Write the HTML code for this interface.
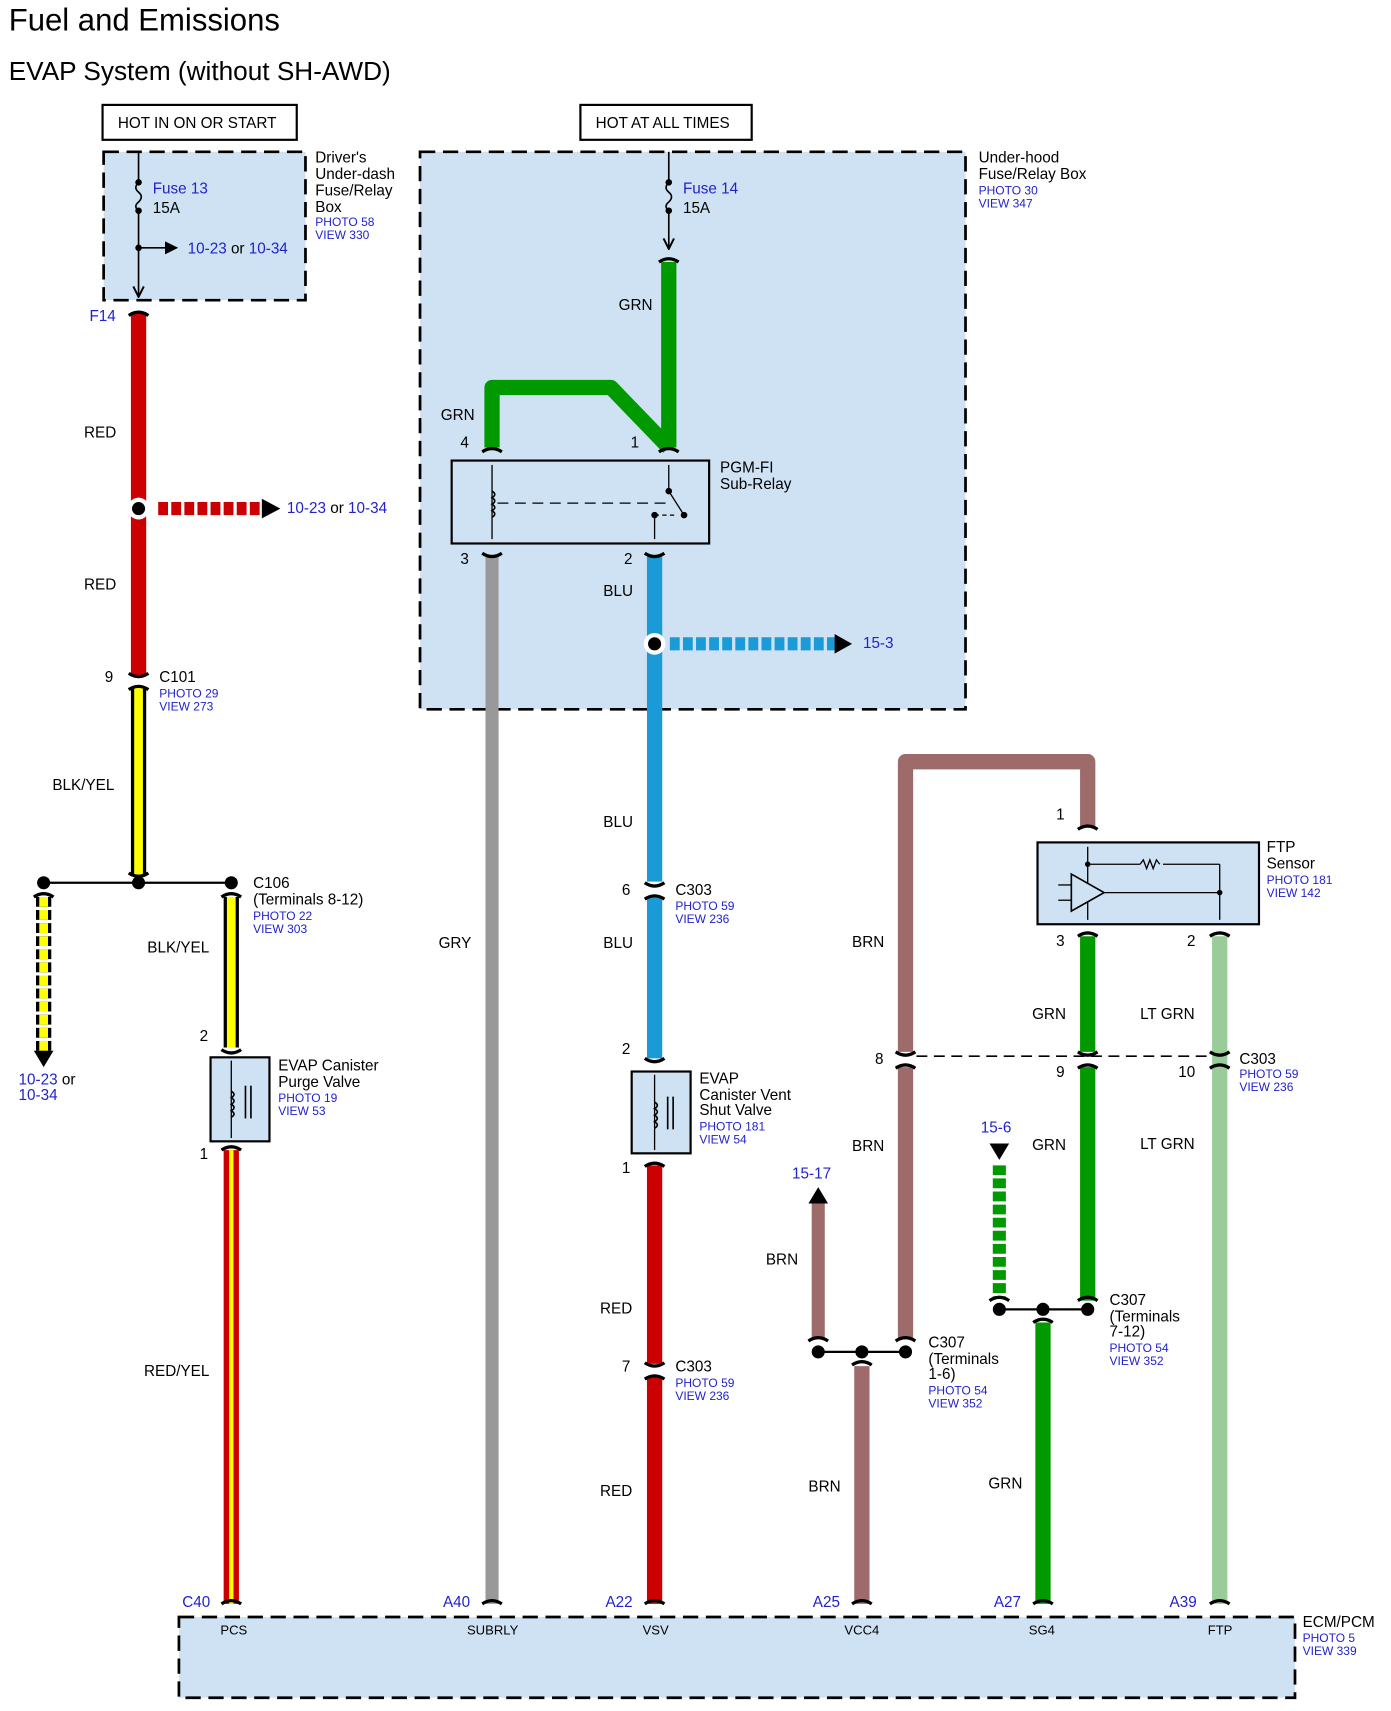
<!DOCTYPE html>
<html><head><meta charset="utf-8"><style>html,body{margin:0;padding:0;background:#fff}svg{display:block}</style></head><body>
<svg width="1391" height="1711" viewBox="0 0 1275 1568" xmlns="http://www.w3.org/2000/svg" font-family="Liberation Sans, Arial, sans-serif" font-size="14">
<defs>
<marker id="ah" viewBox="0 0 10 10" refX="9" refY="5" markerWidth="8" markerHeight="8" orient="auto"><path d="M0,0 L10,5 L0,10 z" fill="#000"/></marker>
<marker id="oa" viewBox="0 0 10 10" refX="9" refY="5" markerWidth="8" markerHeight="8" orient="auto"><path d="M1,1 L9,5 L1,9" fill="none" stroke="#000" stroke-width="1.5"/></marker>
</defs>
<text x="8" y="28" font-size="28.5">Fuel and Emissions</text>
<text x="8" y="73" font-size="24">EVAP System (without SH-AWD)</text>
<rect x="94" y="96" width="178" height="32" fill="none" stroke="#000" stroke-width="2"/>
<text x="108" y="117">HOT IN ON OR START</text>
<rect x="532" y="96" width="157" height="32" fill="none" stroke="#000" stroke-width="2"/>
<text x="546" y="117">HOT AT ALL TIMES</text>
<!-- boxes -->
<rect x="95" y="139" width="185" height="136" fill="#cfe2f3" stroke="#000" stroke-width="2.5" stroke-dasharray="14,7"/>
<rect x="385" y="139" width="500" height="511" fill="#cfe2f3" stroke="#000" stroke-width="2.5" stroke-dasharray="14,7"/>
<rect x="164" y="1482" width="1023" height="74" fill="#cfe2f3" stroke="#000" stroke-width="2.5" stroke-dasharray="14,7"/>
<!-- fuse 13 -->
<line x1="127" y1="139" x2="127" y2="166" stroke="#000" stroke-width="1.5"/>
<path d="M127 167 q-5 5 0 9 q5 4 0 9 q-5 4 0 8" fill="none" stroke="#000" stroke-width="1.5"/>
<line x1="127" y1="193" x2="127" y2="272" stroke="#000" stroke-width="1.5" marker-end="url(#oa)"/>
<circle cx="127" cy="167" r="3"/><circle cx="127" cy="193" r="3"/><circle cx="127" cy="227" r="3"/>
<line x1="127" y1="227" x2="162" y2="227" stroke="#000" stroke-width="1.5" marker-end="url(#ah)"/>
<text x="140" y="177" fill="#2222cc">Fuse 13</text><text x="140" y="195">15A</text>
<text x="172" y="232" fill="#2222cc">10-23 <tspan fill="#000">or</tspan> 10-34</text>
<g font-size="14"><text x="289" y="149">Driver's</text><text x="289" y="164">Under-dash</text><text x="289" y="179">Fuse/Relay</text><text x="289" y="194">Box</text></g>
<g font-size="11" fill="#2222cc"><text x="289" y="207">PHOTO 58</text><text x="289" y="219">VIEW 330</text></g>
<text x="82" y="294" fill="#2222cc">F14</text>
<!-- red wire -->
<line x1="127" y1="286" x2="127" y2="620" stroke="#cc0000" stroke-width="14"/>
<text x="77" y="401">RED</text><text x="77" y="540">RED</text>
<line x1="145" y1="466" x2="240" y2="466" stroke="#cc0000" stroke-width="12" stroke-dasharray="9,3"/>
<path d="M240 457 L257 466 L240 475z"/>
<circle cx="127" cy="466" r="10" fill="#fff"/><circle cx="127" cy="466" r="6"/>
<text x="263" y="470" fill="#2222cc">10-23 <tspan fill="#000">or</tspan> 10-34</text>
<text x="96" y="625">9</text><text x="146" y="625">C101</text>
<g font-size="11" fill="#2222cc"><text x="146" y="639">PHOTO 29</text><text x="146" y="651">VIEW 273</text></g>
<!-- blk/yel -->
<line x1="127" y1="630" x2="127" y2="803" stroke="#000" stroke-width="14"/><line x1="127" y1="630" x2="127" y2="803" stroke="#ffff00" stroke-width="8"/>
<text x="48" y="724">BLK/YEL</text>
<line x1="40" y1="809" x2="212" y2="809" stroke="#000" stroke-width="2"/>
<circle cx="40" cy="809" r="6"/><circle cx="127" cy="809" r="6"/><circle cx="212" cy="809" r="6"/>
<line x1="40" y1="822" x2="40" y2="963" stroke="#000" stroke-width="14" stroke-dasharray="9,3"/><line x1="40" y1="822" x2="40" y2="963" stroke="#ffff00" stroke-width="8" stroke-dasharray="9,3"/>
<path d="M31 963 L49 963 L40 978z"/>
<g fill="#2222cc"><text x="17" y="994">10-23 <tspan fill="#000">or</tspan></text><text x="17" y="1008">10-34</text></g>
<text x="232" y="814">C106</text><text x="232" y="829">(Terminals 8-12)</text>
<g font-size="11" fill="#2222cc"><text x="232" y="843">PHOTO 22</text><text x="232" y="855">VIEW 303</text></g>
<line x1="212" y1="822" x2="212" y2="960" stroke="#000" stroke-width="14"/><line x1="212" y1="822" x2="212" y2="960" stroke="#ffff00" stroke-width="8"/>
<text x="135" y="873">BLK/YEL</text><text x="183" y="954">2</text>
<rect x="193" y="969" width="54" height="77" fill="#cfe2f3" stroke="#000" stroke-width="2"/>
<line x1="212" y1="972" x2="212" y2="1043" stroke="#000" stroke-width="1.2"/>
<path d="M212 1000 q5 3 0 6 q5 3 0 6 q5 3 0 6 q5 3 0 6" fill="none" stroke="#000" stroke-width="1.5"/>
<line x1="225" y1="995" x2="225" y2="1025" stroke="#000" stroke-width="1.5"/><line x1="230" y1="995" x2="230" y2="1025" stroke="#000" stroke-width="1.5"/>
<text x="255" y="981">EVAP Canister</text><text x="255" y="996">Purge Valve</text>
<g font-size="11" fill="#2222cc"><text x="255" y="1010">PHOTO 19</text><text x="255" y="1022">VIEW 53</text></g>
<text x="183" y="1062">1</text>
<line x1="212" y1="1054" x2="212" y2="1470" stroke="#cc0000" stroke-width="14"/><line x1="212" y1="1054" x2="212" y2="1470" stroke="#ffff00" stroke-width="4"/>
<text x="132" y="1261">RED/YEL</text>
<text x="167" y="1473" fill="#2222cc">C40</text><text x="202" y="1498" font-size="12">PCS</text>
<!-- ECM -->
<text x="1194" y="1491">ECM/PCM</text>
<g font-size="11" fill="#2222cc"><text x="1194" y="1505">PHOTO 5</text><text x="1194" y="1517">VIEW 339</text></g>
<!-- under-hood -->
<text x="897" y="149">Under-hood</text><text x="897" y="164">Fuse/Relay Box</text>
<g font-size="11" fill="#2222cc"><text x="897" y="178">PHOTO 30</text><text x="897" y="190">VIEW 347</text></g>
<line x1="613" y1="139" x2="613" y2="166" stroke="#000" stroke-width="1.5"/>
<path d="M613 167 q-5 5 0 9 q5 4 0 9 q-5 4 0 8" fill="none" stroke="#000" stroke-width="1.5"/>
<line x1="613" y1="193" x2="613" y2="228" stroke="#000" stroke-width="1.5" marker-end="url(#oa)"/>
<circle cx="613" cy="167" r="3"/><circle cx="613" cy="193" r="3"/>
<text x="626" y="177" fill="#2222cc">Fuse 14</text><text x="626" y="195">15A</text>
<path d="M613 240 L613 410 M451 410 L451 355 L560 355 L613 410" fill="none" stroke="#009900" stroke-width="14" stroke-linejoin="round"/>
<text x="567" y="284">GRN</text><text x="404" y="385">GRN</text><text x="422" y="410">4</text><text x="578" y="410">1</text>
<rect x="414" y="422" width="236" height="76" fill="#cfe2f3" stroke="#000" stroke-width="2"/>
<line x1="451" y1="426" x2="451" y2="494" stroke="#000" stroke-width="1.2"/>
<path d="M451 450 q5 3 0 6 q5 3 0 6 q5 3 0 6 q5 3 0 6" fill="none" stroke="#000" stroke-width="1.5"/>
<line x1="456" y1="461" x2="612" y2="461" stroke="#000" stroke-width="1.2" stroke-dasharray="10,6"/>
<line x1="613" y1="426" x2="613" y2="450" stroke="#000" stroke-width="1.2"/><circle cx="613" cy="450" r="3"/>
<line x1="613" y1="450" x2="627" y2="472" stroke="#000" stroke-width="1.2"/><circle cx="627" cy="472" r="3"/>
<circle cx="600" cy="472" r="3"/><line x1="600" y1="472" x2="620" y2="472" stroke="#000" stroke-width="1.2" stroke-dasharray="4,3"/>
<line x1="600" y1="472" x2="600" y2="494" stroke="#000" stroke-width="1.2"/>
<text x="660" y="433">PGM-FI</text><text x="660" y="448">Sub-Relay</text>
<text x="422" y="517">3</text><text x="572" y="517">2</text>
<line x1="451" y1="510" x2="451" y2="1470" stroke="#999999" stroke-width="12"/>
<text x="402" y="869">GRY</text>
<line x1="600" y1="510" x2="600" y2="808" stroke="#1a9ad6" stroke-width="14"/>
<text x="553" y="546">BLU</text><text x="553" y="758">BLU</text>
<line x1="614" y1="590" x2="765" y2="590" stroke="#1a9ad6" stroke-width="12" stroke-dasharray="9,3"/>
<path d="M765 581 L781 590 L765 599z"/>
<circle cx="600" cy="590" r="10" fill="#fff"/><circle cx="600" cy="590" r="6"/>
<text x="791" y="594" fill="#2222cc">15-3</text>
<text x="570" y="820">6</text><text x="619" y="820">C303</text>
<g font-size="11" fill="#2222cc"><text x="619" y="834">PHOTO 59</text><text x="619" y="846">VIEW 236</text></g>
<line x1="600" y1="822" x2="600" y2="970" stroke="#1a9ad6" stroke-width="14"/>
<text x="553" y="869">BLU</text><text x="570" y="966">2</text>
<rect x="579" y="982" width="54" height="75" fill="#cfe2f3" stroke="#000" stroke-width="2"/>
<line x1="600" y1="985" x2="600" y2="1054" stroke="#000" stroke-width="1.2"/>
<path d="M600 1010 q5 3 0 6 q5 3 0 6 q5 3 0 6 q5 3 0 6" fill="none" stroke="#000" stroke-width="1.5"/>
<line x1="612" y1="1005" x2="612" y2="1035" stroke="#000" stroke-width="1.5"/><line x1="617" y1="1005" x2="617" y2="1035" stroke="#000" stroke-width="1.5"/>
<text x="641" y="993">EVAP</text><text x="641" y="1008">Canister Vent</text><text x="641" y="1022">Shut Valve</text>
<g font-size="11" fill="#2222cc"><text x="641" y="1036">PHOTO 181</text><text x="641" y="1048">VIEW 54</text></g>
<text x="570" y="1075">1</text>
<line x1="600" y1="1068" x2="600" y2="1250" stroke="#cc0000" stroke-width="14"/>
<text x="550" y="1204">RED</text><text x="570" y="1257">7</text><text x="619" y="1257">C303</text>
<g font-size="11" fill="#2222cc"><text x="619" y="1271">PHOTO 59</text><text x="619" y="1283">VIEW 236</text></g>
<line x1="600" y1="1262" x2="600" y2="1470" stroke="#cc0000" stroke-width="14"/>
<text x="550" y="1371">RED</text>
<text x="406" y="1473" fill="#2222cc">A40</text><text x="428" y="1498" font-size="12">SUBRLY</text>
<text x="555" y="1473" fill="#2222cc">A22</text><text x="589" y="1498" font-size="12">VSV</text>
<!-- BRN loop -->
<path d="M830 964 L830 698 L997 698 L997 758" fill="none" stroke="#9e6b6b" stroke-width="14" stroke-linejoin="round"/>
<line x1="830" y1="978" x2="830" y2="1226" stroke="#9e6b6b" stroke-width="14"/>
<text x="968" y="751">1</text>
<rect x="951" y="772" width="203" height="75" fill="#cfe2f3" stroke="#000" stroke-width="2"/>
<line x1="997" y1="776" x2="997" y2="843" stroke="#000" stroke-width="1.2"/>
<line x1="997" y1="792" x2="1045" y2="792" stroke="#000" stroke-width="1.2"/>
<path d="M1045 792 l3 -4 l3 8 l3 -8 l3 8 l3 -8 l3 4" fill="none" stroke="#000" stroke-width="1.2"/>
<line x1="1066" y1="792" x2="1118" y2="792" stroke="#000" stroke-width="1.2"/>
<line x1="1118" y1="792" x2="1118" y2="843" stroke="#000" stroke-width="1.2"/>
<circle cx="997" cy="792" r="2.5"/><circle cx="1118" cy="818" r="2.5"/>
<path d="M982 801 L1012 818 L982 835z" fill="#cfe2f3" stroke="#000" stroke-width="1.5"/>
<line x1="1012" y1="818" x2="1118" y2="818" stroke="#000" stroke-width="1.2"/>
<line x1="970" y1="811" x2="982" y2="811" stroke="#000" stroke-width="1.2"/><line x1="970" y1="825" x2="982" y2="825" stroke="#000" stroke-width="1.2"/>
<text x="1161" y="781">FTP</text><text x="1161" y="796">Sensor</text>
<g font-size="11" fill="#2222cc"><text x="1161" y="810">PHOTO 181</text><text x="1161" y="822">VIEW 142</text></g>
<text x="968" y="867">3</text><text x="1088" y="867">2</text>
<line x1="997" y1="858" x2="997" y2="964" stroke="#009900" stroke-width="14"/>
<line x1="997" y1="978" x2="997" y2="1192" stroke="#009900" stroke-width="14"/>
<line x1="1118" y1="858" x2="1118" y2="1470" stroke="#99cc99" stroke-width="14"/>
<text x="781" y="868">BRN</text><text x="946" y="934">GRN</text><text x="1045" y="934">LT GRN</text>
<line x1="840" y1="968" x2="1110" y2="968" stroke="#000" stroke-width="1.5" stroke-dasharray="10,6"/>
<text x="802" y="975">8</text><text x="968" y="987">9</text><text x="1080" y="987">10</text>
<text x="1136" y="975">C303</text>
<g font-size="11" fill="#2222cc"><text x="1136" y="988">PHOTO 59</text><text x="1136" y="1000">VIEW 236</text></g>
<text x="781" y="1055">BRN</text><text x="946" y="1054">GRN</text><text x="1045" y="1053">LT GRN</text>
<text x="726" y="1080" fill="#2222cc">15-17</text>
<path d="M741 1103 L759 1103 L750 1088z"/>
<line x1="750" y1="1103" x2="750" y2="1226" stroke="#9e6b6b" stroke-width="12"/>
<text x="702" y="1159">BRN</text>
<line x1="750" y1="1239" x2="830" y2="1239" stroke="#000" stroke-width="2"/>
<circle cx="750" cy="1239" r="6"/><circle cx="790" cy="1239" r="6"/><circle cx="830" cy="1239" r="6"/>
<line x1="790" y1="1252" x2="790" y2="1470" stroke="#9e6b6b" stroke-width="14"/>
<text x="741" y="1367">BRN</text>
<text x="851" y="1235">C307</text><text x="851" y="1250">(Terminals</text><text x="851" y="1264">1-6)</text>
<g font-size="11" fill="#2222cc"><text x="851" y="1278">PHOTO 54</text><text x="851" y="1290">VIEW 352</text></g>
<text x="745" y="1473" fill="#2222cc">A25</text><text x="774" y="1498" font-size="12">VCC4</text>
<text x="899" y="1038" fill="#2222cc">15-6</text>
<path d="M907 1048 L925 1048 L916 1063z"/>
<line x1="916" y1="1068" x2="916" y2="1190" stroke="#009900" stroke-width="12" stroke-dasharray="9,3"/>
<line x1="916" y1="1200" x2="997" y2="1200" stroke="#000" stroke-width="2"/>
<circle cx="916" cy="1200" r="6"/><circle cx="956" cy="1200" r="6"/><circle cx="997" cy="1200" r="6"/>
<line x1="956" y1="1212" x2="956" y2="1470" stroke="#009900" stroke-width="14"/>
<text x="906" y="1364">GRN</text>
<text x="1017" y="1196">C307</text><text x="1017" y="1211">(Terminals</text><text x="1017" y="1225">7-12)</text>
<g font-size="11" fill="#2222cc"><text x="1017" y="1239">PHOTO 54</text><text x="1017" y="1251">VIEW 352</text></g>
<text x="911" y="1473" fill="#2222cc">A27</text><text x="943" y="1498" font-size="12">SG4</text>
<text x="1072" y="1473" fill="#2222cc">A39</text><text x="1107" y="1498" font-size="12">FTP</text>
<!-- connector caps -->
<g fill="none" stroke="#000" stroke-width="3">
<path d="M118 289 Q127 283 136 289"/>
<path d="M604 240 Q613 234 622 240"/>
<path d="M442 414 Q451 408 460 414"/><path d="M604 414 Q613 408 622 414"/>
<path d="M442 507 Q451 513 460 507"/><path d="M591 507 Q600 513 609 507"/>
<path d="M118 617 Q127 623 136 617"/><path d="M118 632 Q127 626 136 632"/>
<path d="M118 800 Q127 806 136 800"/>
<path d="M31 822 Q40 816 49 822"/><path d="M203 822 Q212 816 221 822"/>
<path d="M203 962 Q212 968 221 962"/><path d="M203 1054 Q212 1048 221 1054"/>
<path d="M591 809 Q600 815 609 809"/><path d="M591 824 Q600 818 609 824"/>
<path d="M591 970 Q600 976 609 970"/><path d="M591 1069 Q600 1063 609 1069"/>
<path d="M591 1249 Q600 1255 609 1249"/><path d="M591 1264 Q600 1258 609 1264"/>
<path d="M442 1470 Q451 1464 460 1470"/><path d="M591 1470 Q600 1464 609 1470"/><path d="M203 1470 Q212 1464 221 1470"/>
<path d="M781 1470 Q790 1464 799 1470"/><path d="M947 1470 Q956 1464 965 1470"/><path d="M1109 1470 Q1118 1464 1127 1470"/>
<path d="M988 760 Q997 754 1006 760"/>
<path d="M988 858 Q997 852 1006 858"/><path d="M1109 858 Q1118 852 1127 858"/>
<path d="M821 964 Q830 970 839 964"/><path d="M821 979 Q830 973 839 979"/>
<path d="M988 964 Q997 970 1006 964"/><path d="M988 979 Q997 973 1006 979"/>
<path d="M1109 964 Q1118 970 1127 964"/><path d="M1109 979 Q1118 973 1127 979"/>
<path d="M741 1229 Q750 1223 759 1229"/><path d="M821 1229 Q830 1223 839 1229"/><path d="M781 1251 Q790 1245 799 1251"/>
<path d="M907 1192 Q916 1186 925 1192"/><path d="M988 1192 Q997 1186 1006 1192"/><path d="M947 1212 Q956 1206 965 1212"/>
</g>
</svg>
</body></html>
